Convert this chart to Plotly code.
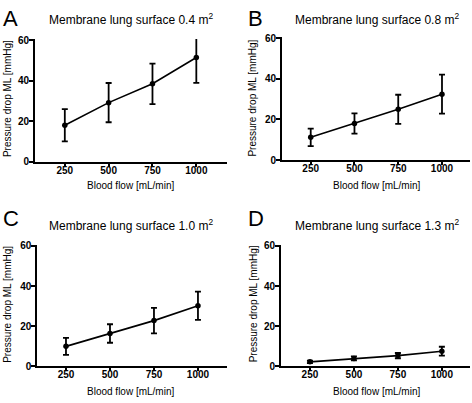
import plotly.graph_objects as go

W, H = 472, 403

flow = [250, 500, 750, 1000]
x_ticks = [250, 500, 750, 1000]
y_ticks = [0, 20, 40, 60]

panel_letters = ["A", "B", "C", "D"]
surfaces = ["0.4", "0.8", "1.0", "1.3"]

mean_a = [18.0, 29.2, 38.5, 51.5]
err_a = [8.0, 9.7, 10.0, 12.5]
mean_b = [11.2, 18.0, 25.0, 32.5]
err_b = [4.3, 5.0, 7.2, 9.6]
mean_c = [10.0, 16.4, 22.8, 30.2]
err_c = [4.2, 4.6, 6.3, 7.0]
mean_d = [2.3, 4.0, 5.4, 7.6]
err_d = [0.6, 1.0, 1.3, 2.2]

means = [mean_a, mean_b, mean_c, mean_d]
errs = [err_a, err_b, err_c, err_d]

# pixel geometry of each panel: (left, right, top, bottom)
boxes = [
    (35, 227, 36, 161.7),
    (282, 470, 34, 160),
    (37.3, 227, 246.7, 371.7),
    (281, 470, 246.7, 371.7),
]
x_ranges = [[80, 1175], [86, 1160], [87, 1165], [85.5, 1160]]

FONT = "Liberation Sans, Arial, sans-serif"

fig = go.Figure()
layout = dict(
    width=W, height=H,
    margin=dict(l=0, r=0, t=0, b=0),
    paper_bgcolor="white", plot_bgcolor="white",
    showlegend=False,
    font=dict(family=FONT, color="black"),
)
annotations = []

for i in range(4):
    xa = "x" if i == 0 else f"x{i+1}"
    ya = "y" if i == 0 else f"y{i+1}"
    fig.add_trace(go.Scatter(
        x=flow, y=means[i], xaxis=xa, yaxis=ya,
        mode="lines+markers",
        line=dict(color="black", width=1.6),
        marker=dict(color="black", size=5.5, symbol="circle"),
        error_y=dict(type="data", array=errs[i], visible=True,
                     color="black", thickness=1.8, width=3),
        cliponaxis=True,
    ))
    l, r, t, b = boxes[i]
    xkey = "xaxis" if i == 0 else f"xaxis{i+1}"
    ykey = "yaxis" if i == 0 else f"yaxis{i+1}"
    layout[xkey] = dict(
        domain=[l / W, r / W], anchor=ya, range=x_ranges[i],
        tickvals=x_ticks, ticktext=[str(v) for v in x_ticks],
        showgrid=False, zeroline=False, showline=True,
        linecolor="black", linewidth=2,
        ticks="outside", ticklen=3, tickwidth=1.5, tickcolor="black",
        ticklabelstandoff=-5,
        tickfont=dict(family=FONT, size=10, color="black", weight="bold"),
    )
    layout[ykey] = dict(
        domain=[1 - b / H, 1 - t / H], anchor=xa, range=[0, 60.6],
        tickvals=y_ticks, ticktext=[str(v) for v in y_ticks],
        showgrid=False, zeroline=False, showline=True,
        linecolor="black", linewidth=2,
        ticks="outside", ticklen=4, tickwidth=1.5, tickcolor="black",
        ticklabelstandoff=-2,
        tickfont=dict(family=FONT, size=10, color="black", weight="bold"),
    )
    # title
    cx = 131 if i in (0, 2) else 377
    ty = 15 if i < 2 else 227
    annotations.append(dict(
        text=f"Membrane lung surface {surfaces[i]} m<sup>2</sup>",
        x=cx / W, y=1 - ty / H, xref="paper", yref="paper",
        xanchor="center", yanchor="middle", showarrow=False,
        font=dict(family=FONT, size=12, color="black"),
    ))
    # panel letter
    lx = 1 if i in (0, 2) else 246
    ly = 0 if i < 2 else 205
    annotations.append(dict(
        text=panel_letters[i],
        x=lx / W, y=1 - ly / H, xref="paper", yref="paper",
        xanchor="left", yanchor="top", showarrow=False,
        font=dict(family=FONT, size=22, color="black"),
    ))
    # y axis title
    yx = 7.5 if i in (0, 2) else 253
    yy = 97 if i < 2 else 308
    annotations.append(dict(
        text="Pressure drop ML [mmHg]",
        x=yx / W, y=1 - yy / H, xref="paper", yref="paper",
        xanchor="center", yanchor="middle", showarrow=False, textangle=-90,
        font=dict(family=FONT, size=10, color="black"),
    ))
    # x axis title
    xl = 85 if i in (0, 2) else 331
    xy = 186 if i < 2 else 397
    annotations.append(dict(
        text="Blood flow [mL/min]",
        x=xl / W, y=1 - xy / H, xref="paper", yref="paper",
        xanchor="left", yanchor="middle", showarrow=False,
        font=dict(family=FONT, size=10, color="black"),
    ))

layout["annotations"] = annotations
fig.update_layout(**layout)
fig.write_html("out.html", config={"displayModeBar": False},
               post_script="document.body.style.margin='0';")
